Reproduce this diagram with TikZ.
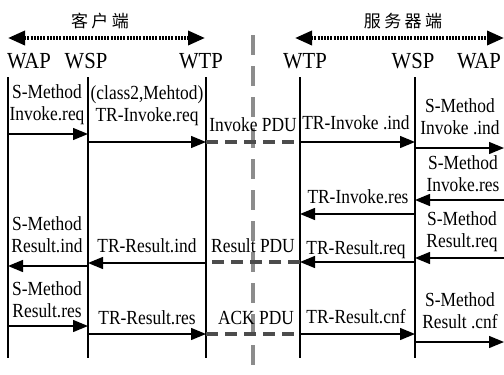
\documentclass[tikz,border=0pt]{standalone}
\usepackage{fontspec}
\setmainfont{Liberation Serif}
\newfontfamily\cjk[LetterSpace=20]{Noto Sans CJK SC}
\usetikzlibrary{arrows.meta}
\tikzstyle{life} = [line width=2.6pt]
\tikzstyle{msg} = [line width=1.3pt,-{Triangle[length=15pt,width=12pt]}]
\tikzstyle{pdu} = [line width=3.5pt,color=black!70,dash pattern=on 12pt off 7pt]
\tikzstyle{sep} = [line width=3.5pt,color=black!45,dash pattern=on 20pt off 11pt]
\tikzstyle{side} = [line width=3.5pt,dash pattern=on 2pt off 1.2pt,{Triangle[length=17pt,width=14pt]}-{Triangle[length=17pt,width=14pt]}]
\tikzstyle{lbl} = [xscale=0.87,align=center,inner sep=0pt,font=\fontsize{20}{22}\selectfont]
\tikzstyle{layer} = [xscale=0.9,inner sep=0pt,font=\fontsize{23}{25}\selectfont]

\begin{document}
\begin{tikzpicture}[x=1pt,y=-1pt]
	\useasboundingbox (0,0) rectangle (504,375);
	% client / server
	\node[font=\cjk\fontsize{17}{18}\selectfont] (client) at (100,21) {客户端};
	\node[font=\cjk\fontsize{17}{18}\selectfont] (server) at (403,21) {服务器端};
	\coordinate (cl) at (8,38);
	\coordinate (cr) at (205,38);
	\coordinate (sl) at (295,38);
	\coordinate (sr) at (504,38);
	\draw[side] (cl) -- (cr);
	\draw[side] (sl) -- (sr);
	% layers
	\node[layer] (hwapl) at (29,61) {WAP};
	\node[layer] (hwspl) at (86,61) {WSP};
	\node[layer] (hwtpl) at (201,61) {WTP};
	\node[layer] (hwtpr) at (305,61) {WTP};
	\node[layer] (hwspr) at (413,61) {WSP};
	\node[layer] (hwapr) at (479,61) {WAP};
	\draw[sep] (253,35) -- (253,375);
	\foreach \n/\x in {wapL/8,wspL/88,wtpL/206,wtpR/300,wspR/415,wapR/504}
	\coordinate (\n) at (\x,77);
	\foreach \n in {wapL,wspL,wtpL,wtpR,wspR}
	\draw[life] (\n) -- ++(0,281);
	% invoke
	\node[lbl] (smInvReq) at (47,105) {S-Method\\Invoke.req};
	\node[lbl] (trInvReq) at (147,106) {(class2,Mehtod)\\TR-Invoke.req};
	\node[lbl] (invPdu) at (253,125) {Invoke PDU};
	\node[lbl] (trInvInd) at (356,123) {TR-Invoke .ind};
	\node[lbl] (smInvInd) at (460,117) {S-Method\\Invoke .ind};
	\draw[msg] (wapL |- 0,134) -- (wspL |- 0,134);
	\draw[msg] (wspL |- 0,142) -- (wtpL |- 0,142);
	\draw[pdu] (wtpL |- 0,142) -- (wtpR |- 0,142);
	\draw[msg] (wtpR |- 0,142) -- (wspR |- 0,142);
	\draw[msg] (wspR |- 0,148) -- (wapR |- 0,148);
	\node[lbl] (smInvRes) at (463,174) {S-Method\\Invoke.res};
	\node[lbl] (trInvRes) at (358,197) {TR-Invoke.res};
	\draw[msg] (wapR |- 0,200) -- (wspR |- 0,200);
	\draw[msg] (wspR |- 0,214) -- (wtpR |- 0,214);
	% result
	\node[lbl] (smResReq) at (462,232) {S-Method\\Result.req};
	\node[lbl] (trResReq) at (356,250) {TR-Result.req};
	\node[lbl] (resPdu) at (253,246) {Result PDU};
	\node[lbl] (trResInd) at (147,246) {TR-Result.ind};
	\node[lbl] (smResInd) at (47,235) {S-Method\\Result.ind};
	\draw[msg] (wapR |- 0,258) -- (wspR |- 0,258);
	\draw[msg] (wspR |- 0,262) -- (wtpR |- 0,262);
	\draw[pdu] (wtpR |- 0,262) -- (wtpL |- 0,262);
	\draw[msg] (wtpL |- 0,263) -- (wspL |- 0,263);
	\draw[msg] (wspL |- 0,266) -- (wapL |- 0,266);
	% ack
	\node[lbl] (smResRes) at (47,300) {S-Method\\Result.res};
	\node[lbl] (trResRes) at (147,318) {TR-Result.res};
	\node[lbl] (ackPdu) at (256,318) {ACK PDU};
	\node[lbl] (trResCnf) at (356,317) {TR-Result.cnf};
	\node[lbl] (smResCnf) at (460,311) {S-Method\\Result .cnf};
	\draw[msg] (wapL |- 0,326) -- (wspL |- 0,326);
	\draw[msg] (wspL |- 0,334) -- (wtpL |- 0,334);
	\draw[pdu] (wtpL |- 0,334) -- (wtpR |- 0,334);
	\draw[msg] (wtpR |- 0,334) -- (wspR |- 0,334);
	\draw[msg] (wspR |- 0,342) -- (wapR |- 0,342);
\end{tikzpicture}
\end{document}
